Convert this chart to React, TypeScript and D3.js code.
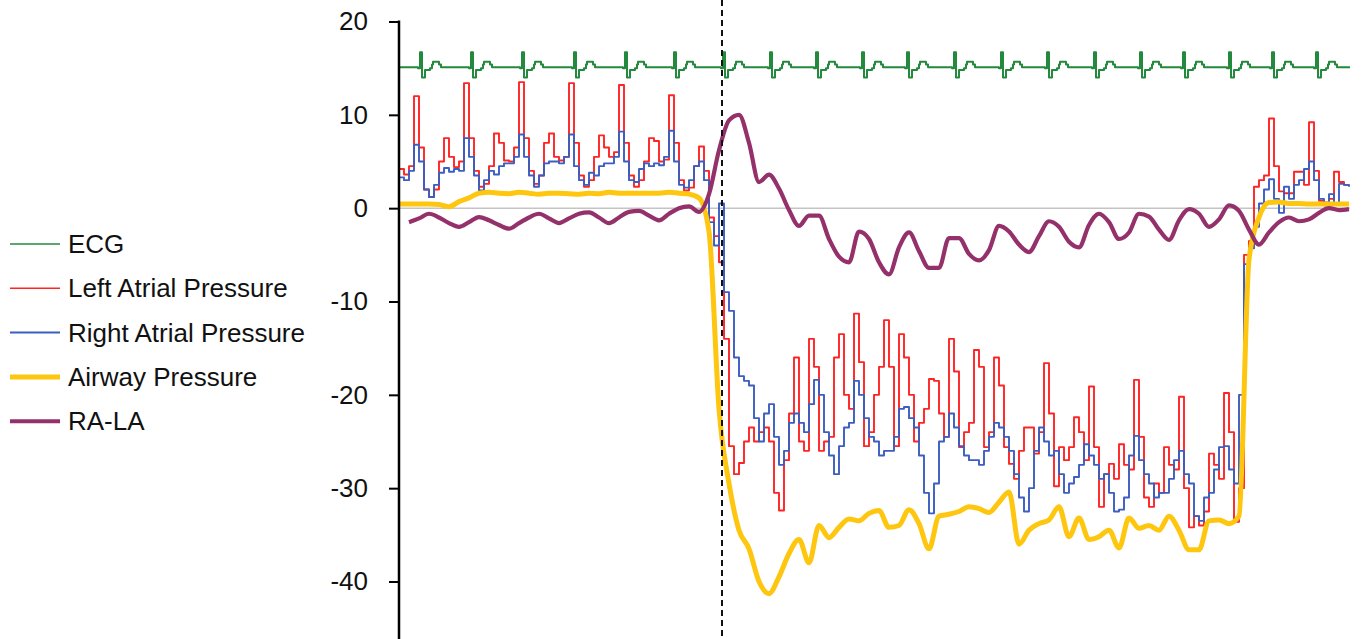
import { useEffect, useRef } from 'react';
import * as d3 from 'd3';

// sampling steps (seconds) for the pressure traces
const FAST_STEP = 0.1;
const SLOW_STEP = 0.2;

// Left atrial pressure, every 0.1 s
const LAP = [
  4.2, 3.6, 4.5, 12.0, 6.5, 2.0, 1.2, 2.0, 5.0, 7.5,
  5.5, 4.4, 5.0, 13.4, 7.5, 4.0, 2.3, 2.6, 4.5, 8.0,
  7.0, 5.1, 5.0, 6.5, 13.5, 7.5, 4.0, 2.6, 3.5, 7.0,
  8.0, 5.5, 5.1, 5.5, 13.4, 7.0, 3.5, 2.3, 3.0, 5.5,
  7.8, 6.5, 5.5, 6.0, 13.2, 7.0, 3.5, 2.3, 3.0, 5.0,
  7.5, 7.2, 5.0, 5.2, 12.1, 7.0, 3.0, 1.9, 2.2, 4.5,
  6.6, 4.0, -1.0, -3.0, -5.8, -14, -25.5, -28.5, -27.3, -25,
  -23.5, -25, -24, -23.5, -25, -30.5, -32.4, -27, -22, -16,
  -25, -26, -14, -17, -26, -25, -24.5, -16, -13.5, -20,
  -21.5, -11.3, -16.5, -25.5, -24, -20, -17, -12, -17, -25.5,
  -13.5, -16, -20, -25, -23, -21.5, -18.3, -18.5, -22, -24.5,
  -14, -17.5, -25.6, -24, -23, -15.2, -17, -25.6, -24, -16,
  -19, -25.6, -27.4, -29, -26, -23.5, -23.5, -26.3, -24, -16.6,
  -22, -29.8, -25.6, -27, -25.6, -22.4, -24, -27, -19.1, -25.6,
  -32, -28.5, -27.4, -29, -25.3, -27.5, -28, -18.4, -24.5, -31,
  -32, -29.5, -30.5, -25.6, -27.5, -28, -20.2, -30, -34.2, -33,
  -34, -32.5, -26.3, -27.5, -29, -19.8, -24, -33.6, -30, -5,
  -3.5, 2.3, 3.0, 3.5, 9.6, 4.5, 1.8, 1.6, 1.6, 3.9,
  3.9, 2.5, 9.2, 4.0, 0.8, 0.6, 1.0, 3.9, 2.8, 2.5,
  2.5,
];

// Right atrial pressure, every 0.1 s
const RAP = [
  3.3, 3.0, 4.0, 6.8, 5.0, 2.0, 1.2, 2.5, 3.8, 4.3,
  3.9, 4.2, 4.0, 7.5, 5.5, 3.5, 1.9, 3.0, 4.0, 3.6,
  4.5, 4.8, 4.8, 5.5, 7.9, 5.5, 3.5, 2.3, 3.5, 4.8,
  5.0, 5.0, 4.8, 5.5, 7.9, 4.5, 3.0, 2.5, 3.8, 3.5,
  4.5, 4.8, 4.8, 5.5, 8.2, 5.0, 3.0, 2.8, 4.2, 4.8,
  4.5, 4.8, 4.6, 5.5, 8.3, 5.0, 2.5, 2.2, 3.0, 4.5,
  5.0, 3.0, -1.5, -4.0, 0.5, -9, -11, -16, -18, -18.5,
  -19, -22.5, -25, -22, -21, -24.5, -27.5, -26, -23, -22,
  -23, -24, -21, -18.4, -20, -24, -26.5, -28.5, -25.5, -23.5,
  -23, -18.5, -20, -22.5, -24.5, -25, -26.5, -26, -26, -24.5,
  -21.5, -21.3, -22.5, -23.5, -26.5, -30.5, -32.7, -29.5, -25, -24.5,
  -22, -23.5, -25.5, -26.5, -27, -27, -27.5, -26, -24.5, -23,
  -23.5, -24.5, -26, -28.5, -31, -32.5, -30, -26, -23.5, -25,
  -26.5, -26, -28.5, -30.5, -29.5, -28.8, -27.5, -25.3, -26.5, -27.5,
  -29, -28.5, -30.5, -32.5, -32.3, -31, -26.5, -24.4, -27, -28.5,
  -29.5, -31, -30.5, -30.5, -29, -27, -26, -28.5, -29.5, -33,
  -33.5, -31, -30.5, -28, -25.6, -25.5, -28, -29.5, -20, -6,
  -4.3, -2, 0.5, 2.0, 3.1, 1.0, -0.5, 2.3, 1.0, 2.5,
  3.0, 4.2, 5.0, 3.0, 1.0, 0.3, 1.5, 0.5, 2.6, 2.5,
  2.3,
];

// Airway pressure, every 0.2 s
const AIRWAY = [
  0.45, 0.45, 0.45, 0.45, 0.4, 0.15, 0.7, 1.1, 1.6, 1.7,
  1.6, 1.55, 1.7, 1.6, 1.5, 1.6, 1.6, 1.55, 1.5, 1.6,
  1.55, 1.7, 1.6, 1.6, 1.6, 1.6, 1.6, 1.7, 1.6, 1.5,
  1.1, -2.5, -21.5, -29.5, -34.5, -36.5, -40, -41.3, -39.5, -37,
  -35.5, -38, -34, -35.3, -34.2, -33.3, -33.5, -32.7, -32.4, -34.2,
  -34, -32.3, -33.8, -36.5, -33, -32.8, -32.5, -32.0, -32.2, -32.6,
  -31.5, -30.4, -36, -34.5, -33.8, -33.4, -32, -35.2, -33.2, -35.5,
  -35.2, -34.5, -36.4, -33.2, -34.3, -34.0, -34.5, -33, -34.5, -36.6,
  -36.6, -33.5, -33.4, -33.8, -33, -5.5, -1.0, 0.6, 0.65, 0.5,
  0.5, 0.45, 0.45, 0.45, 0.45, 0.45,
];

// RA minus LA, every 0.2 s (no reading at the first sample)
const RA_LA = [
  null, -1.5, -1.1, -0.6, -1.0, -1.6, -2.0, -1.5, -0.95, -1.3,
  -1.8, -2.2, -1.6, -1.0, -0.6, -1.1, -1.6, -1.1, -0.6, -0.45,
  -1.0, -1.6, -1.0, -0.4, -0.3, -0.8, -1.3, -0.6, 0.0, 0.2,
  -0.4, 1.5, 6.2, 9.4, 10.0, 7.0, 2.8, 3.6, 2.1, -0.2,
  -1.9, -0.8, -0.8, -3.3, -5.2, -5.8, -2.5, -3.3, -5.8, -7.1,
  -4.2, -2.6, -4.6, -6.4, -6.4, -3.2, -3.2, -4.9, -5.6, -4.5,
  -1.9, -2.5, -3.9, -4.7, -3.0, -1.4, -2.0, -3.6, -4.2, -1.8,
  -0.6, -1.5, -3.3, -2.6, -0.6, -0.9, -2.3, -3.4, -1.3, -0.1,
  -0.6, -2.0, -1.2, 0.3, -0.3, -2.3, -3.9, -2.6, -1.5, -1.0,
  -1.4, -1.2, -0.5, 0.0, -0.2, -0.1,
];

// ECG: R-wave times (s) and one beat's shape (offset s, value)
const ECG_BEATS = [
  0.42, 1.44, 2.46, 3.5, 4.52, 5.5, 6.48, 7.42, 8.34, 9.26,
  10.16, 11.1, 12.04, 12.96, 13.9, 14.82, 15.68, 16.6, 17.46, 18.34,
];
const ECG_SHAPE_T = [-0.04, 0, 0.04, 0.1, 0.2, 0.24, 0.26, 0.38, 0.42];
const ECG_SHAPE_V = [15.0, 16.7, 14.0, 14.8, 15.0, 15.4, 15.7, 15.4, 15.1];
const ECG_BASELINE = 15.1;

const Y_TICKS = [20, 10, 0, -10, -20, -30, -40];
const END_TIME = 19.02;
const EVENT_TIME = 6.46;

const SERIES_NAMES = ['ECG', 'Left Atrial Pressure', 'Right Atrial Pressure', 'Airway Pressure', 'RA-LA'];
const SERIES_COLORS = ['#23893c', '#ff2424', '#3b5ec0', '#fec60e', '#94306a'];
const SERIES_WIDTHS = [2, 1.9, 1.9, 5, 4.2];
const LEGEND_WIDTHS = [1.5, 1.5, 2, 5, 4];

const W = 1365;
const H = 639;
const FONT = '"Liberation Sans", Arial, Helvetica, sans-serif';

type Pt = [number, number | null];

export default function App() {
  const axisRef = useRef<SVGGElement>(null);

  const x = d3.scaleLinear().domain([0, END_TIME]).range([399, 1350]);
  const y = d3.scaleLinear().domain([-40, 20]).range([581.5, 21.5]);

  useEffect(() => {
    document.body.style.margin = '0';
    if (!axisRef.current) return;
    const g = d3.select(axisRef.current);
    g.selectAll('*').remove();
    g.call(
      d3.axisLeft(y).tickValues(Y_TICKS).tickSize(10).tickPadding(21).tickFormat((d) => String(d))
    );
    g.select('.domain').remove();
    g.selectAll('.tick line').attr('stroke', '#000').attr('stroke-width', 2);
    g.selectAll('.tick text')
      .attr('font-size', 26)
      .attr('font-family', FONT)
      .attr('fill', '#111');
  }, []);

  const sampled = (vals: (number | null)[], step: number): Pt[] =>
    vals.map((v, i) => [i * step, v]);

  const ecg: Pt[] = [[0, ECG_BASELINE]];
  ECG_BEATS.forEach((b) => {
    ECG_SHAPE_T.forEach((o, k) => ecg.push([b + o, ECG_SHAPE_V[k]]));
  });
  ecg.push([END_TIME, ECG_BASELINE]);

  const stepLine = d3
    .line<Pt>()
    .defined((d) => d[1] !== null)
    .x((d) => x(d[0]))
    .y((d) => y(d[1] as number))
    .curve(d3.curveStepAfter);
  const smoothLine = d3
    .line<Pt>()
    .defined((d) => d[1] !== null)
    .x((d) => x(d[0]))
    .y((d) => y(d[1] as number))
    .curve(d3.curveMonotoneX);

  const paths = [
    stepLine(ecg),
    stepLine(sampled(LAP, FAST_STEP)),
    stepLine(sampled(RAP, FAST_STEP)),
    smoothLine(sampled(AIRWAY, SLOW_STEP)),
    smoothLine(sampled(RA_LA, SLOW_STEP)),
  ];

  return (
    <svg width={W} height={H} style={{ display: 'block', background: '#fff' }}>
      {/* zero line */}
      <line x1={x(0)} x2={x(END_TIME)} y1={y(0)} y2={y(0)} stroke="#a6a6a6" strokeWidth={1} />

      {paths.map((d, i) => (
        <path
          key={SERIES_NAMES[i]}
          d={d || ''}
          fill="none"
          stroke={SERIES_COLORS[i]}
          strokeWidth={SERIES_WIDTHS[i]}
          strokeLinejoin="round"
        />
      ))}

      {/* event marker */}
      <line x1={x(EVENT_TIME)} x2={x(EVENT_TIME)} y1={0} y2={H} stroke="#111" strokeWidth={2} strokeDasharray="6,4" />

      {/* y axis */}
      <line x1={x(0)} x2={x(0)} y1={y(20) - 1} y2={H} stroke="#000" strokeWidth={2.5} />
      <g ref={axisRef} transform={`translate(${x(0)},0)`} />

      {/* legend */}
      {SERIES_NAMES.map((name, i) => {
        const ly = 244 + i * 44.3;
        return (
          <g key={name}>
            <line x1={10} x2={60} y1={ly} y2={ly} stroke={SERIES_COLORS[i]} strokeWidth={LEGEND_WIDTHS[i]} />
            <text x={68} y={ly} dy="0.35em" fontSize={26} fontFamily={FONT} fill="#111">
              {name}
            </text>
          </g>
        );
      })}
    </svg>
  );
}
